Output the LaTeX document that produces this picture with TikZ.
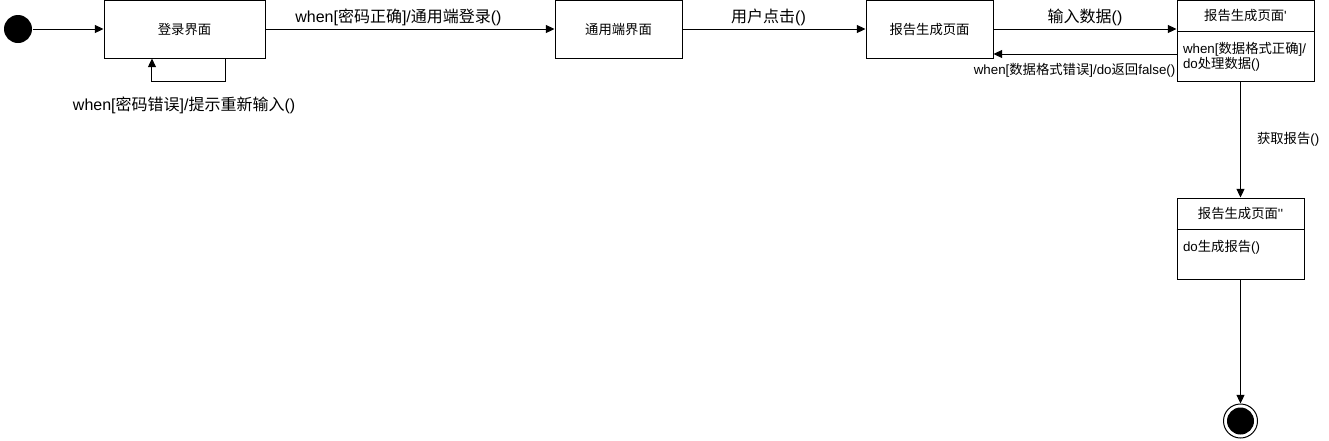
\documentclass[tikz,border=0pt]{standalone}
\usepackage{fontspec}
\newfontfamily\latinfont{Liberation Sans}
\newfontfamily\cjkfont{Noto Sans CJK SC}
\newcommand{\cn}[1]{{\cjkfont #1}}
\usetikzlibrary{arrows.meta,positioning}

\tikzset{
    >={Triangle[length=6.5pt,width=6pt]},
    statebox/.style={rectangle, draw, minimum height=43.5pt, inner sep=0pt, font=\latinfont\fontsize{10}{12}\selectfont},
    splitbox/.style={rectangle, draw, minimum height=60.75pt, inner sep=0pt},
    boxtitle/.style={minimum height=23.25pt, inner sep=0pt, font=\latinfont\fontsize{10}{12}\selectfont},
    boxbody/.style={inner sep=0pt, align=left, font=\latinfont\fontsize{10}{11.25}\selectfont},
    biglabel/.style={inner sep=0pt, font=\latinfont\fontsize{12}{14}\selectfont},
    smalllabel/.style={inner sep=0pt, font=\latinfont\fontsize{10}{12}\selectfont}
}

\begin{document}
\begin{tikzpicture}[x=0.75pt, y=-0.75pt, line width=0.75pt]
    \useasboundingbox (0,0) rectangle (1329,440);

    \node (start) [circle, fill=black, minimum size=21pt, inner sep=0pt] at (18,29) {};
    \node (login) [statebox, minimum width=120.75pt, right=53.25pt of start] {\cn{登录界面}};
    \node (common) [statebox, minimum width=95.25pt, right=216.75pt of login] {\cn{通用端界面}};
    \node (report) [statebox, minimum width=95.25pt, right=137.25pt of common] {\cn{报告生成页面}};

    \node (report1) [splitbox, minimum width=102.75pt, right=137.25pt of report.north east, anchor=north west] {};
    \node (report1 title) [boxtitle, below=0pt of report1.north] {\cn{报告生成页面}'};
    \coordinate (report1 split) at (report1.west |- report1 title.south);
    \draw (report1 split) -- (report1.east |- report1 split);
    \node (report1 body) [boxbody, below right=7.5pt and 4.5pt of report1 split] {when[\cn{数据格式正确}]/\\do\cn{处理数据}()};

    \node (report2) [splitbox, minimum width=95.25pt, below=87pt of report1.south west, anchor=north west] {};
    \node (report2 title) [boxtitle, below=0pt of report2.north] {\cn{报告生成页面}''};
    \coordinate (report2 split) at (report2.west |- report2 title.south);
    \draw (report2 split) -- (report2.east |- report2 split);
    \node (report2 body) [boxbody, below right=7.5pt and 4.5pt of report2 split] {do\cn{生成报告}()};

    \node (final) [circle, draw, minimum size=25.5pt, inner sep=0pt, below=93pt of report2] {};
    \node (final dot) [circle, fill=black, minimum size=20.25pt, inner sep=0pt] at (final) {};

    \draw [->] (start) -- (login);
    \draw [->] (login) -- node [biglabel, above=2pt, pos=0.46] {when[\cn{密码正确}]/\cn{通用端登录}()} (common);
    \draw [->] ([xshift=30.4pt]login.south) -- ++(0,-17.25pt) -| node [biglabel, pos=0.28, below=11pt] {when[\cn{密码错误}]/\cn{提示重新输入}()} ([xshift=-24.4pt]login.south);
    \draw [->] (common) -- node [biglabel, above=2pt, pos=0.47] {\cn{用户点击}()} (report);
    \draw [->] (report) -- node [biglabel, above=2pt] {\cn{输入数据}()} (report1.west |- report);

    \coordinate (back) at ([yshift=-18.75pt]report.east);
    \draw [->] (report1.west |- back) -- node [smalllabel, pos=0, below left=6.5pt and 0.5pt] {when[\cn{数据格式错误}]/do\cn{返回}false()} (back);

    \draw [->] (report1.south -| report2.north) -- node [smalllabel, right=12pt] {\cn{获取报告}()} (report2.north);
    \draw [->] (report2) -- (final);
\end{tikzpicture}
\end{document}
